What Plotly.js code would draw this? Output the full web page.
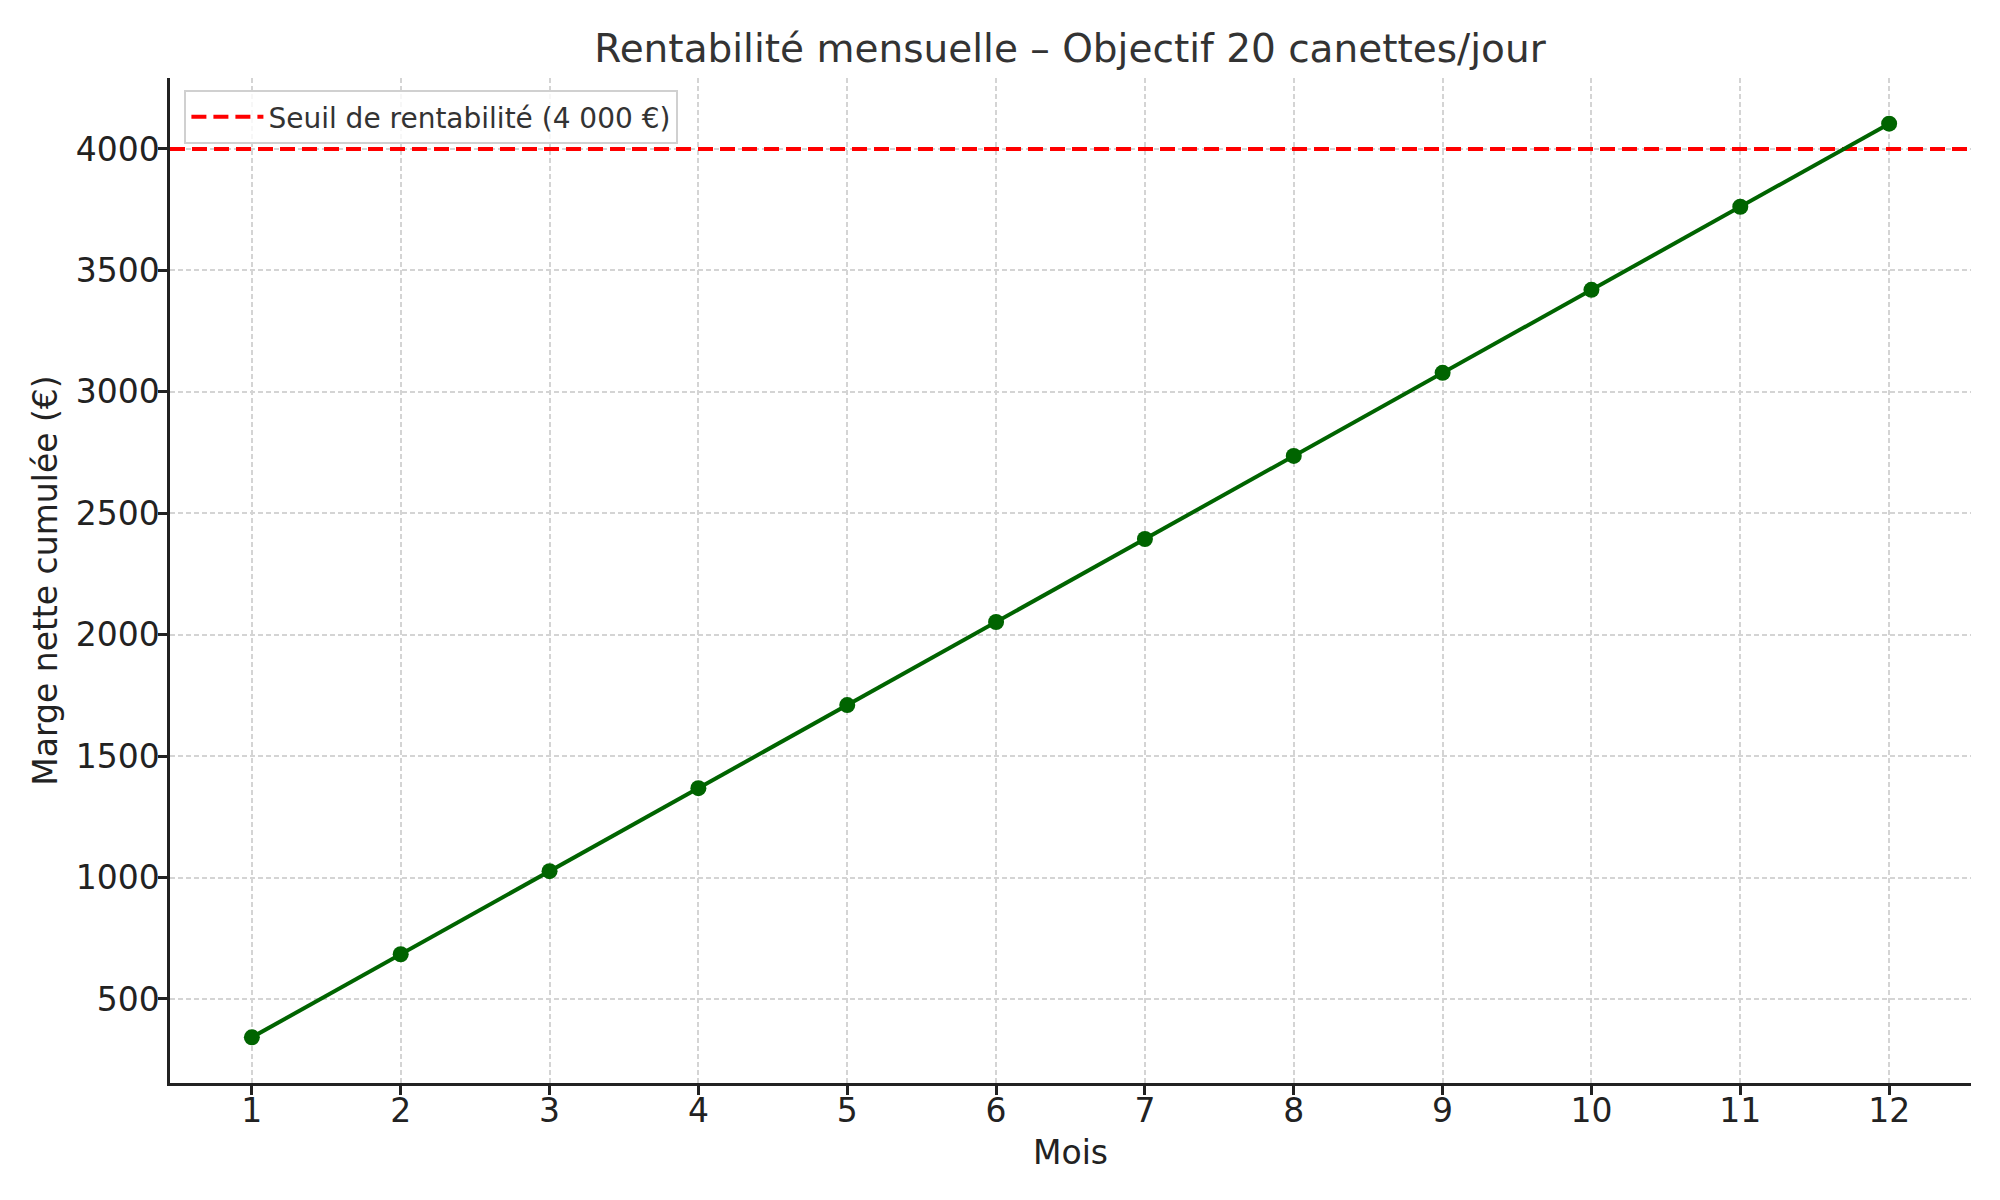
<!DOCTYPE html>
<html>
<head>
<meta charset="utf-8">
<script src="https://cdn.plot.ly/plotly-3.0.1.min.js"></script>
<style>
  html, body { margin: 0; padding: 0; background: #fff; }
  #chart { width: 2000px; height: 1200px; }
</style>
</head>
<body>
<div id="chart"></div>
<script>
// monthly cumulative margin
let mois = [1, 2, 3, 4, 5, 6, 7, 8, 9, 10, 11, 12];
let margeCumulee = [342, 684, 1026, 1368, 1710, 2052, 2394, 2736, 3078, 3420, 3762, 4104];
let seuil = 4000;
let seuilLabel = "Seuil de rentabilité (4 000 €)";
let yTicks = [500, 1000, 1500, 2000, 2500, 3000, 3500, 4000];

let xRange = [0.45, 12.55];
let yRange = [153.9, 4292.1];

var font = "DejaVu Sans, Liberation Sans, sans-serif";

let data = [
    {
        x: xRange,
        y: [seuil, seuil],
        type: "scatter",
        mode: "lines",
        name: seuilLabel,
        line: { color: "#ff0000", width: 4, dash: "15px,7px" },
        hoverinfo: "skip"
    },
    {
        x: mois,
        y: margeCumulee,
        type: "scatter",
        mode: "lines+markers",
        showlegend: false,
        line: { color: "#006400", width: 4 },
        marker: { color: "#006400", size: 16 }
    }
];

var layout = {
    width: 2000,
    height: 1200,
    margin: { l: 170, r: 29, t: 78, b: 117 },
    paper_bgcolor: "#ffffff",
    plot_bgcolor: "#ffffff",
    font: { family: font, color: "#222222", size: 33 },
    title: {
        text: "Rentabilité mensuelle – Objectif 20 canettes/jour",
        font: { family: font, size: 39, color: "#333333" },
        x: 0.535,
        xanchor: "center",
        y: 0.96,
        yanchor: "middle"
    },
    xaxis: {
        range: xRange,
        tickvals: mois,
        ticks: "outside",
        ticklen: 9,
        tickwidth: 2.5,
        tickcolor: "#222222",
        ticklabelstandoff: -12,
        showline: true,
        linecolor: "#222222",
        linewidth: 2.5,
        mirror: false,
        zeroline: false,
        showgrid: true,
        gridcolor: "#d4d4d4",
        gridwidth: 1.7,
        griddash: "5px,3px",
        tickfont: { size: 33, color: "#222222" },
        title: { text: "Mois", font: { size: 33, color: "#222222" }, standoff: 12 }
    },
    yaxis: {
        range: yRange,
        tickvals: yTicks,
        ticks: "outside",
        ticklen: 9,
        tickwidth: 2.5,
        tickcolor: "#222222",
        ticklabelstandoff: -8,
        showline: true,
        linecolor: "#222222",
        linewidth: 2.5,
        zeroline: false,
        showgrid: true,
        gridcolor: "#d4d4d4",
        gridwidth: 1.7,
        griddash: "5px,3px",
        tickfont: { size: 33, color: "#222222" },
        title: { text: "Marge nette cumulée (€)", font: { size: 33, color: "#222222" }, standoff: 9 }
    },
    legend: {
        x: 0.008,
        y: 0.988,
        xanchor: "left",
        yanchor: "top",
        bgcolor: "rgba(255,255,255,0.8)",
        bordercolor: "#d0d0d0",
        borderwidth: 2,
        font: { family: font, size: 28, color: "#333333" },
        itemwidth: 72
    },
    showlegend: true
};

Plotly.newPlot("chart", data, layout, { displayModeBar: false, responsive: false });
</script>
</body>
</html>
